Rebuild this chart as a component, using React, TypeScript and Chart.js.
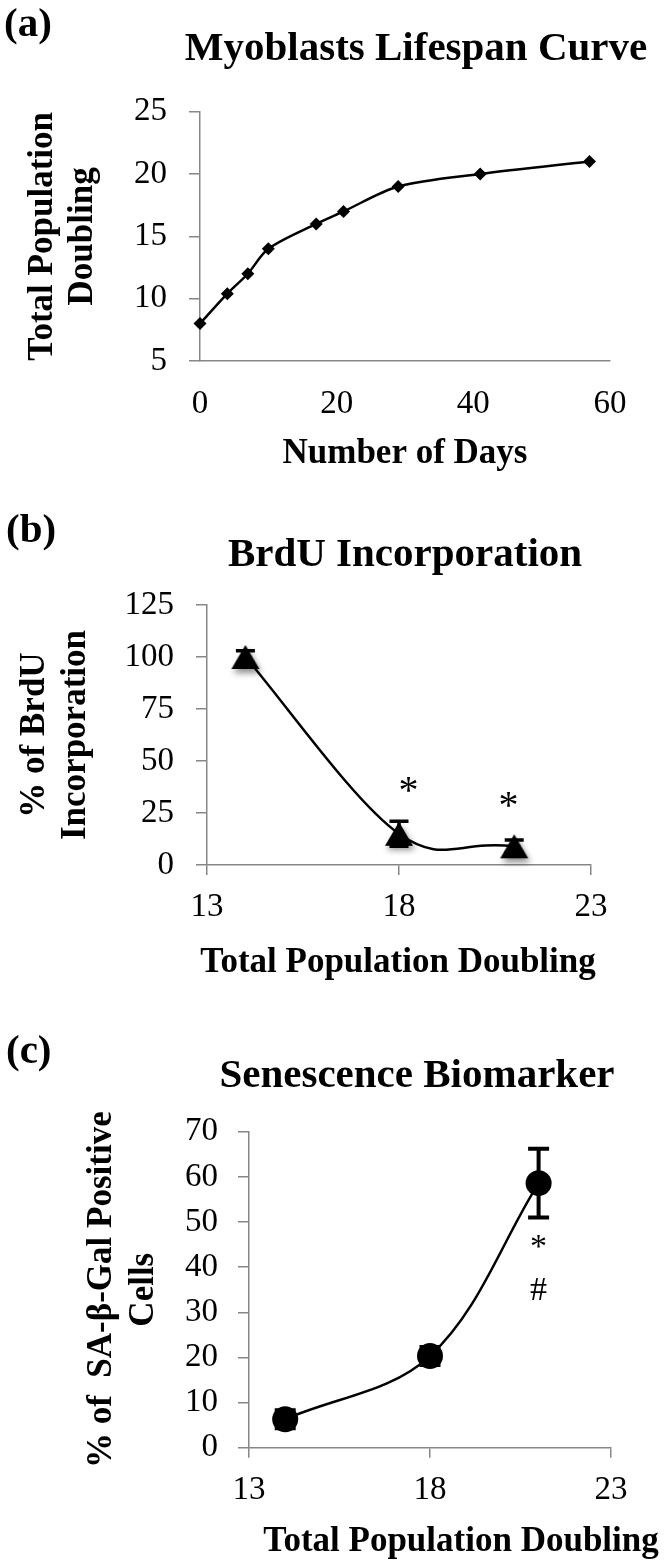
import React, { useEffect, useRef } from 'react';
import { Chart, registerables } from 'chart.js';

Chart.register(...registerables);

// ---------------- data ----------------
// (a) Myoblasts lifespan curve
const lifespanDays = [0, 4, 7, 10, 17, 21, 29, 41, 57];
const lifespanPD = [8, 10.4, 12, 14, 16, 17, 19, 20, 21];
const lifespanXTicks = [0, 20, 40, 60];
const lifespanYTicks = [5, 10, 15, 20, 25];

// (b) BrdU incorporation
const brduPD = [14, 18, 21];
const brduPercent = [100, 15, 9];
const brduError = [3, 6, 3];
const brduMarkText = ['*', '*'];
const brduMarkX = [18.25, 20.85];
const brduMarkY = [35, 27.5];
const brduYTicks = [0, 25, 50, 75, 100, 125];

// (c) Senescence biomarker
const sengalPD = [14, 18, 21];
const sengalPercent = [6.3, 20.3, 58.6];
const sengalError = [2, 2, 7.6];
const sengalMarkText = ['*', '#'];
const sengalMarkX = [21, 21];
const sengalMarkY = [44.3, 34.6];
const sengalYTicks = [0, 10, 20, 30, 40, 50, 60, 70];

const pdXTicks = [13, 18, 23];

// ---------------- styling helpers ----------------
const SERIF = "'Liberation Serif', 'Times New Roman', Times, serif";
const GRAY = '#878787';
const tickFont = { family: SERIF, size: 33 };

type TextItem = {
  text: string;
  x: number;
  y: number;
  size: number;
  bold?: boolean;
  align?: CanvasTextAlign;
  baseline?: CanvasTextBaseline;
};

const makeTextPlugin = (id: string, items: TextItem[]) => ({
  id,
  afterDraw(chart: any) {
    const ctx = chart.ctx as CanvasRenderingContext2D;
    ctx.save();
    ctx.fillStyle = '#000';
    items.forEach((it) => {
      ctx.font = `${it.bold ? 'bold ' : ''}${it.size}px ${SERIF}`;
      ctx.textAlign = it.align || 'center';
      ctx.textBaseline = it.baseline || 'alphabetic';
      ctx.fillText(it.text, it.x, it.y);
    });
    ctx.restore();
  },
});

const makeMarkPlugin = (id: string, texts: string[], xs: number[], ys: number[], size: number) => ({
  id,
  afterDatasetsDraw(chart: any) {
    const { ctx, scales } = chart;
    ctx.save();
    ctx.fillStyle = '#000';
    ctx.font = `${size}px ${SERIF}`;
    ctx.textAlign = 'center';
    ctx.textBaseline = 'middle';
    texts.forEach((t, i) => {
      ctx.fillText(t, scales.x.getPixelForValue(xs[i]), scales.y.getPixelForValue(ys[i]));
    });
    ctx.restore();
  },
});

const makeErrorPlugin = (
  id: string,
  xv: number[],
  yv: number[],
  err: number[],
  lineWidth: number,
  capHalf: number
) => ({
  id,
  beforeDatasetsDraw(chart: any) {
    const { ctx, scales } = chart;
    ctx.save();
    ctx.strokeStyle = '#000';
    ctx.lineWidth = lineWidth;
    xv.forEach((x, i) => {
      if (!err[i]) return;
      const px = scales.x.getPixelForValue(x);
      const top = scales.y.getPixelForValue(yv[i] + err[i]);
      const bot = scales.y.getPixelForValue(yv[i] - err[i]);
      ctx.beginPath();
      ctx.moveTo(px, top);
      ctx.lineTo(px, bot);
      ctx.moveTo(px - capHalf, top);
      ctx.lineTo(px + capHalf, top);
      ctx.moveTo(px - capHalf, bot);
      ctx.lineTo(px + capHalf, bot);
      ctx.stroke();
    });
    ctx.restore();
  },
});

function xAxis(
  min: number,
  max: number,
  ticks: number[],
  o: { drawTicks: boolean; padding: number; height: number; title?: string }
) {
  return {
    type: 'linear',
    min,
    max,
    afterBuildTicks: (s: any) => {
      s.ticks = ticks.map((v) => ({ value: v }));
    },
    afterFit: (s: any) => {
      s.height = o.height;
    },
    ticks: { color: '#000', font: tickFont, padding: o.padding, maxRotation: 0, autoSkip: false },
    grid: {
      display: true,
      drawOnChartArea: false,
      drawTicks: o.drawTicks,
      tickLength: 10,
      color: GRAY,
      lineWidth: 1.5,
    },
    border: { display: true, color: GRAY, width: 1.5 },
    title: o.title
      ? {
          display: true,
          text: o.title,
          color: '#000',
          font: { family: SERIF, size: 35, weight: 'bold', lineHeight: 1.2 },
          padding: { top: 0, bottom: 0 },
        }
      : { display: false },
  };
}

function yAxis(
  min: number,
  max: number,
  ticks: number[],
  o: { width: number; padding: number; title: string[]; titleLine: number; titlePad: number }
) {
  return {
    type: 'linear',
    min,
    max,
    afterBuildTicks: (s: any) => {
      s.ticks = ticks.map((v) => ({ value: v }));
    },
    afterFit: (s: any) => {
      s.width = o.width;
    },
    ticks: { color: '#000', font: tickFont, padding: o.padding, autoSkip: false },
    grid: {
      display: true,
      drawOnChartArea: false,
      drawTicks: true,
      tickLength: 11,
      color: GRAY,
      lineWidth: 1.5,
    },
    border: { display: true, color: GRAY, width: 1.5 },
    title: {
      display: true,
      text: o.title,
      color: '#000',
      font: { family: SERIF, size: 35, weight: 'bold', lineHeight: o.titleLine / 35 },
      padding: { top: o.titlePad, bottom: 0 },
    },
  };
}

function makeTriangle(): HTMLCanvasElement {
  const c = document.createElement('canvas');
  c.width = 46;
  c.height = 46;
  const g = c.getContext('2d') as CanvasRenderingContext2D;
  g.shadowColor = 'rgba(0,0,0,0.45)';
  g.shadowBlur = 6;
  g.shadowOffsetX = 2;
  g.shadowOffsetY = 4;
  g.fillStyle = '#000';
  g.beginPath();
  g.moveTo(23, 11);
  g.lineTo(37, 35);
  g.lineTo(9, 35);
  g.closePath();
  g.fill();
  return c;
}

const baseOptions = (padding: any, scales: any) => ({
  responsive: false,
  animation: false,
  devicePixelRatio: 1,
  events: [],
  layout: { padding },
  plugins: { legend: { display: false }, tooltip: { enabled: false }, title: { display: false } },
  scales,
});

// show only the segment that starts at the given data index
const onlySegment = (idx: number) => ({
  borderColor: (ctx: any) => (ctx.p0DataIndex === idx ? '#000' : 'rgba(0,0,0,0)'),
});

export default function App() {
  const aRef = useRef<HTMLCanvasElement>(null);
  const bRef = useRef<HTMLCanvasElement>(null);
  const cRef = useRef<HTMLCanvasElement>(null);

  useEffect(() => {
    const charts: Chart[] = [];

    // ---------- (a) ----------
    charts.push(
      new Chart(aRef.current as HTMLCanvasElement, {
        type: 'line',
        data: {
          datasets: [
            {
              label: 'Total Population Doubling',
              data: lifespanDays.map((d, i) => ({ x: d, y: lifespanPD[i] })),
              borderColor: '#000',
              borderWidth: 2.5,
              tension: 0.3,
              pointStyle: 'rectRot',
              pointRadius: 6.5,
              pointBackgroundColor: '#000',
              pointBorderColor: '#000',
              pointBorderWidth: 0,
              clip: false,
            } as any,
          ],
        },
        options: baseOptions(
          { left: 0, right: 56, top: 111.7, bottom: 15 },
          {
            x: xAxis(0, 60, lifespanXTicks, { drawTicks: false, padding: 24, height: 114, title: 'Number of Days' }),
            y: yAxis(5, 25, lifespanYTicks, {
              width: 200,
              padding: 22,
              title: ['Total Population', 'Doubling'],
              titleLine: 40,
              titlePad: 23,
            }),
          }
        ) as any,
        plugins: [
          makeTextPlugin('textA', [
            { text: '(a)', x: 4, y: 36, size: 41, bold: true, align: 'left' },
            { text: 'Myoblasts Lifespan Curve', x: 416, y: 60, size: 41, bold: true },
          ]),
        ],
      })
    );

    // ---------- (b) ----------
    const tri = makeTriangle();
    const brduPoints = brduPD.map((d, i) => ({ x: d, y: brduPercent[i] }));
    charts.push(
      new Chart(bRef.current as HTMLCanvasElement, {
        type: 'line',
        data: {
          datasets: [
            {
              label: '% of BrdU Incorporation',
              data: brduPoints,
              borderColor: '#000',
              borderWidth: 2.5,
              tension: 0.5,
              segment: onlySegment(1),
              pointStyle: tri,
              pointRadius: 15,
              pointBackgroundColor: '#000',
              clip: false,
            } as any,
            {
              label: '% of BrdU Incorporation (first segment)',
              data: brduPoints,
              borderColor: '#000',
              borderWidth: 2.5,
              tension: 0.25,
              segment: onlySegment(0),
              pointRadius: 0,
              clip: false,
            } as any,
          ],
        },
        options: baseOptions(
          { left: 0, right: 75, top: 115, bottom: 0 },
          {
            x: xAxis(13, 23, pdXTicks, { drawTicks: true, padding: 13, height: 135 }),
            y: yAxis(0, 125, brduYTicks, {
              width: 207,
              padding: 22,
              title: ['% of BrdU', 'Incorporation'],
              titleLine: 41,
              titlePad: 14.5,
            }),
          }
        ) as any,
        plugins: [
          makeErrorPlugin('errB', brduPD, brduPercent, brduError, 3.5, 9.5),
          makeMarkPlugin('marksB', brduMarkText, brduMarkX, brduMarkY, 40),
          makeTextPlugin('textB', [
            { text: '(b)', x: 6, y: 52, size: 41, bold: true, align: 'left' },
            { text: 'BrdU Incorporation', x: 405, y: 76, size: 41, bold: true },
            { text: 'Total Population Doubling', x: 398, y: 473, size: 35, bold: true, baseline: 'middle' },
          ]),
        ],
      })
    );

    // ---------- (c) ----------
    charts.push(
      new Chart(cRef.current as HTMLCanvasElement, {
        type: 'line',
        data: {
          datasets: [
            {
              label: '% of SA-β-Gal Positive Cells',
              data: sengalPD.map((d, i) => ({ x: d, y: sengalPercent[i] })),
              borderColor: '#000',
              borderWidth: 2.5,
              tension: 0.35,
              pointStyle: 'circle',
              pointRadius: 13,
              pointBackgroundColor: '#000',
              pointBorderColor: '#000',
              pointBorderWidth: 0,
              clip: false,
            } as any,
          ],
        },
        options: baseOptions(
          { left: 0, right: 55, top: 131.7, bottom: 0 },
          {
            x: xAxis(13, 23, pdXTicks, { drawTicks: true, padding: 13, height: 117.3 }),
            y: yAxis(0, 70, sengalYTicks, {
              width: 249,
              padding: 20,
              title: ['% of  SA-β-Gal Positive', 'Cells'],
              titleLine: 42,
              titlePad: 81,
            }),
          }
        ) as any,
        plugins: [
          makeErrorPlugin('errC', sengalPD, sengalPercent, sengalError, 4, 10.5),
          makeMarkPlugin('marksC', sengalMarkText, sengalMarkX, sengalMarkY, 34),
          makeTextPlugin('textC', [
            { text: '(c)', x: 6, y: 63, size: 41, bold: true, align: 'left' },
            { text: 'Senescence Biomarker', x: 417, y: 87, size: 41, bold: true },
            { text: 'Total Population Doubling', x: 461, y: 542, size: 35, bold: true, baseline: 'middle' },
          ]),
        ],
      })
    );

    return () => charts.forEach((c) => c.destroy());
  }, []);

  return (
    <div style={{ position: 'absolute', left: 0, top: 0, width: 666, height: 1565, background: '#fff' }}>
      <canvas
        ref={aRef}
        width={666}
        height={490}
        style={{ position: 'absolute', left: 0, top: 0, width: 666, height: 490 }}
      />
      <canvas
        ref={bRef}
        width={666}
        height={510}
        style={{ position: 'absolute', left: 0, top: 490, width: 666, height: 510 }}
      />
      <canvas
        ref={cRef}
        width={666}
        height={565}
        style={{ position: 'absolute', left: 0, top: 1000, width: 666, height: 565 }}
      />
    </div>
  );
}
